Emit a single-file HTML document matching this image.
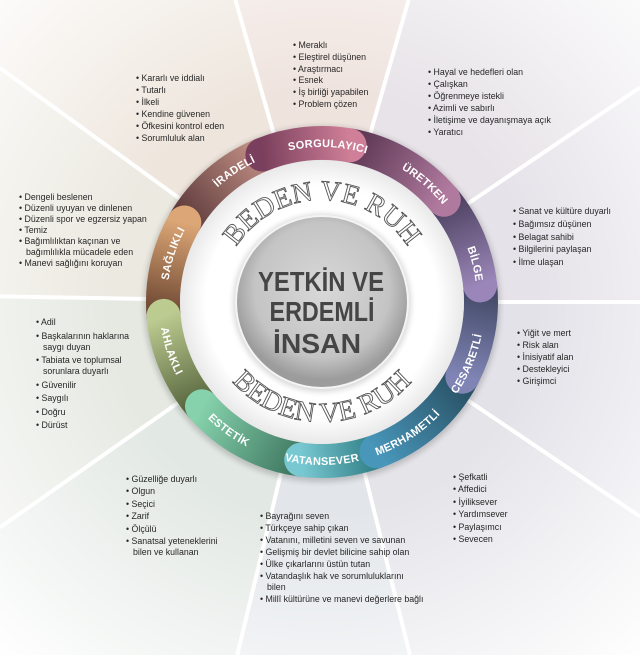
<!DOCTYPE html>
<html><head><meta charset="utf-8">
<style>
html,body{margin:0;padding:0;background:#fff;width:640px;height:655px;overflow:hidden}
#w{position:relative;width:640px;height:655px;overflow:hidden;font-family:"Liberation Sans",sans-serif}
svg{position:absolute;left:0;top:0;display:block}
.l{position:absolute;font-size:8.8px;color:#262626;line-height:11px;white-space:nowrap}
.l div{padding-left:7px;text-indent:-7px}
</style></head><body><div id="w">
<svg width="640" height="655" viewBox="0 0 640 655">
<defs>
<radialGradient id="fade" cx="322" cy="302" r="470" gradientUnits="userSpaceOnUse">
<stop offset="0.45" stop-color="#fff" stop-opacity="0"/><stop offset="1" stop-color="#fff" stop-opacity="0.95"/></radialGradient>
<radialGradient id="gc" cx="322" cy="290" r="90" gradientUnits="userSpaceOnUse">
<stop offset="0" stop-color="#d8d8d8"/><stop offset="0.75" stop-color="#c4c4c4"/><stop offset="1" stop-color="#9c9c9c"/></radialGradient>
<radialGradient id="wd" cx="322" cy="302" r="145" gradientUnits="userSpaceOnUse">
<stop offset="0.8" stop-color="#fff"/><stop offset="1" stop-color="#e6e6e6"/></radialGradient>
<linearGradient id="g9" gradientUnits="userSpaceOnUse" x1="184.3" y1="222.5" x2="262.4" y2="154.6"><stop offset="0" stop-color="#5c3a3a"/><stop offset="1" stop-color="#c08e84"/></linearGradient>
<linearGradient id="g8" gradientUnits="userSpaceOnUse" x1="163.6" y1="315.9" x2="184.3" y2="222.5"><stop offset="0" stop-color="#6a4530"/><stop offset="1" stop-color="#dca676"/></linearGradient>
<linearGradient id="g7" gradientUnits="userSpaceOnUse" x1="202" y1="406.3" x2="163.6" y2="315.9"><stop offset="0" stop-color="#55633c"/><stop offset="1" stop-color="#bccb90"/></linearGradient>
<linearGradient id="g6" gradientUnits="userSpaceOnUse" x1="301.2" y1="459.6" x2="202" y2="406.3"><stop offset="0" stop-color="#3e7660"/><stop offset="1" stop-color="#86d2ac"/></linearGradient>
<linearGradient id="g5" gradientUnits="userSpaceOnUse" x1="376.4" y1="451.4" x2="301.2" y2="459.6"><stop offset="0" stop-color="#2f7d84"/><stop offset="1" stop-color="#78c8d2"/></linearGradient>
<linearGradient id="g4" gradientUnits="userSpaceOnUse" x1="462.4" y1="376.7" x2="376.4" y2="451.4"><stop offset="0" stop-color="#284f62"/><stop offset="1" stop-color="#4896ba"/></linearGradient>
<linearGradient id="g3" gradientUnits="userSpaceOnUse" x1="480.1" y1="285.4" x2="462.4" y2="376.7"><stop offset="0" stop-color="#3f4662"/><stop offset="1" stop-color="#7f84b4"/></linearGradient>
<linearGradient id="g2" gradientUnits="userSpaceOnUse" x1="443.8" y1="199.8" x2="480.1" y2="285.4"><stop offset="0" stop-color="#4b3f5e"/><stop offset="1" stop-color="#9a86b8"/></linearGradient>
<linearGradient id="g1" gradientUnits="userSpaceOnUse" x1="349.6" y1="145.4" x2="443.8" y2="199.8"><stop offset="0" stop-color="#5a3552"/><stop offset="1" stop-color="#b07a9e"/></linearGradient>
<linearGradient id="g0" gradientUnits="userSpaceOnUse" x1="262.4" y1="154.6" x2="349.6" y2="145.4"><stop offset="0" stop-color="#7a3f5c"/><stop offset="1" stop-color="#cf7f98"/></linearGradient>
<path id="cw" d="M322,457 A155,155 0 1 1 322,147 A155,155 0 1 1 322,457"/>
<path id="ccw" d="M322,139 A163,163 0 1 0 322,465 A163,163 0 1 0 322,139"/>
<path id="bt" d="M220,302 A102,102 0 0 1 424,302"/>
<path id="bb" d="M202,302 A120,120 0 0 0 442,302"/>
<filter id="sh" x="-20%" y="-20%" width="140%" height="140%"><feGaussianBlur stdDeviation="3"/></filter>
</defs>
<g>
<polygon points="322,302 235.4,0 408.6,0" fill="#efe3de"/>
<polygon points="322,302 408.6,0 640,0 640,87.5" fill="#e7e3e8"/>
<polygon points="322,302 640,87.5 640,302" fill="#e5e2e9"/>
<polygon points="322,302 640,302 640,516.5" fill="#e3e2e9"/>
<polygon points="322,302 640,516.5 640,655 410,655" fill="#e5e4e9"/>
<polygon points="322,302 410,655 237.3,655" fill="#e2e6ea"/>
<polygon points="322,302 237.3,655 0,655 0,527.5" fill="#e2e8e4"/>
<polygon points="322,302 0,527.5 0,296.4" fill="#e6e9e2"/>
<polygon points="322,302 0,296.4 0,68" fill="#ebe9e0"/>
<polygon points="322,302 0,68 0,0 235.4,0" fill="#eee6dd"/>
</g>
<rect width="640" height="655" fill="url(#fade)"/>
<g stroke="#fff" stroke-width="4">
<line x1="322" y1="302" x2="235.4" y2="0"/>
<line x1="322" y1="302" x2="408.6" y2="0"/>
<line x1="322" y1="302" x2="640" y2="87.5"/>
<line x1="322" y1="302" x2="640" y2="302"/>
<line x1="322" y1="302" x2="640" y2="516.5"/>
<line x1="322" y1="302" x2="410" y2="655"/>
<line x1="322" y1="302" x2="237.3" y2="655"/>
<line x1="322" y1="302" x2="0" y2="527.5"/>
<line x1="322" y1="302" x2="0" y2="296.4"/>
<line x1="322" y1="302" x2="0" y2="68"/>
</g>
<circle cx="322" cy="304" r="178" fill="#000" opacity="0.18" filter="url(#sh)"/>
<g fill="none" stroke-width="34" stroke-linecap="round">
<path d="M184.3,222.5 A159,159 0 0 1 262.4,154.6" stroke="url(#g9)"/>
<path d="M163.6,315.9 A159,159 0 0 1 184.3,222.5" stroke="url(#g8)"/>
<path d="M202,406.3 A159,159 0 0 1 163.6,315.9" stroke="url(#g7)"/>
<path d="M301.2,459.6 A159,159 0 0 1 202,406.3" stroke="url(#g6)"/>
<path d="M376.4,451.4 A159,159 0 0 1 301.2,459.6" stroke="url(#g5)"/>
<path d="M462.4,376.7 A159,159 0 0 1 376.4,451.4" stroke="url(#g4)"/>
<path d="M480.1,285.4 A159,159 0 0 1 462.4,376.7" stroke="url(#g3)"/>
<path d="M443.8,199.8 A159,159 0 0 1 480.1,285.4" stroke="url(#g2)"/>
<path d="M349.6,145.4 A159,159 0 0 1 443.8,199.8" stroke="url(#g1)"/>
<path d="M262.4,154.6 A159,159 0 0 1 349.6,145.4" stroke="url(#g0)"/>
</g>
<circle cx="322" cy="302" r="142" fill="url(#wd)"/>
<g font-family="Liberation Sans, sans-serif" font-weight="bold" font-size="11" fill="#fff" text-anchor="middle" letter-spacing="0.3">
<text><textPath href="#cw" startOffset="30%">SAĞLIKLI</textPath></text>
<text><textPath href="#cw" startOffset="40.6%">İRADELİ</textPath></text>
<text><textPath href="#cw" startOffset="50.6%">SORGULAYICI</textPath></text>
<text><textPath href="#cw" startOffset="61.4%">ÜRETKEN</textPath></text>
<text><textPath href="#cw" startOffset="71.1%">BİLGE</textPath></text>
<text><textPath href="#ccw" startOffset="68.6%">CESARETLİ</textPath></text>
<text><textPath href="#ccw" startOffset="59.2%">MERHAMETLİ</textPath></text>
<text><textPath href="#ccw" startOffset="50%">VATANSEVER</textPath></text>
<text><textPath href="#ccw" startOffset="40%">ESTETİK</textPath></text>
<text><textPath href="#ccw" startOffset="30%">AHLAKLI</textPath></text>
</g>
<g font-family="Liberation Serif, serif" font-size="28" fill="#fff" stroke="#555" stroke-width="0.9" text-anchor="middle">
<text><textPath href="#bt" startOffset="50%">BEDEN VE RUH</textPath></text>
<text><textPath href="#bb" startOffset="50%">BEDEN VE RUH</textPath></text>
</g>
<circle cx="322" cy="303" r="89" fill="#000" opacity="0.15" filter="url(#sh)"/>
<circle cx="322" cy="302" r="86" fill="url(#gc)" stroke="#f4f4f4" stroke-width="2"/>
<g font-family="Liberation Sans, sans-serif" font-weight="bold" font-size="28" fill="#454545" text-anchor="middle">
<text x="321" y="291" textLength="126" lengthAdjust="spacingAndGlyphs">YETKİN VE</text>
<text x="322" y="321" textLength="105" lengthAdjust="spacingAndGlyphs">ERDEMLİ</text>
<text x="317" y="353" textLength="88" lengthAdjust="spacingAndGlyphs">İNSAN</text>
</g>
</svg>

<div class="l" style="left:293px;top:40px;line-height:11.8px">
<div>• Meraklı</div><div>• Eleştirel düşünen</div><div>• Araştırmacı</div><div>• Esnek</div><div>• İş birliği yapabilen</div><div>• Problem çözen</div></div>

<div class="l" style="left:136px;top:72px;line-height:12px">
<div>• Kararlı ve iddialı</div><div>• Tutarlı</div><div>• İlkeli</div><div>• Kendine güvenen</div><div>• Öfkesini kontrol eden</div><div>• Sorumluluk alan</div></div>

<div class="l" style="left:428px;top:67px;line-height:11.9px">
<div>• Hayal ve hedefleri olan</div><div>• Çalışkan</div><div>• Öğrenmeye istekli</div><div>• Azimli ve sabırlı</div><div>• İletişime ve dayanışmaya açık</div><div>• Yaratıcı</div></div>

<div class="l" style="left:19px;top:192px;line-height:11px">
<div>• Dengeli beslenen</div><div>• Düzenli uyuyan ve dinlenen</div><div>• Düzenli spor ve egzersiz yapan</div><div>• Temiz</div><div>• Bağımlılıktan kaçınan ve<br>bağımlılıkla mücadele eden</div><div>• Manevi sağlığını koruyan</div></div>

<div class="l" style="left:513px;top:205px;line-height:12.8px">
<div>• Sanat ve kültüre duyarlı</div><div>• Bağımsız düşünen</div><div>• Belagat sahibi</div><div>• Bilgilerini paylaşan</div><div>• İlme ulaşan</div></div>

<div class="l" style="left:36px;top:317px;line-height:11px">
<div style="margin-bottom:2.5px">• Adil</div><div style="margin-bottom:2.5px">• Başkalarının haklarına<br>saygı duyan</div><div style="margin-bottom:2.5px">• Tabiata ve toplumsal<br>sorunlara duyarlı</div><div style="margin-bottom:2.5px">• Güvenilir</div><div style="margin-bottom:2.5px">• Saygılı</div><div style="margin-bottom:2.5px">• Doğru</div><div>• Dürüst</div></div>

<div class="l" style="left:517px;top:327px;line-height:12px">
<div>• Yiğit ve mert</div><div>• Risk alan</div><div>• İnisiyatif alan</div><div>• Destekleyici</div><div>• Girişimci</div></div>

<div class="l" style="left:126px;top:474px;line-height:11px">
<div style="margin-bottom:1.4px">• Güzelliğe duyarlı</div><div style="margin-bottom:1.4px">• Olgun</div><div style="margin-bottom:1.4px">• Seçici</div><div style="margin-bottom:1.4px">• Zarif</div><div style="margin-bottom:1.4px">• Ölçülü</div><div>• Sanatsal yeteneklerini<br>bilen ve kullanan</div></div>

<div class="l" style="left:260px;top:511px;line-height:11px">
<div style="margin-bottom:1px">• Bayrağını seven</div><div style="margin-bottom:1px">• Türkçeye sahip çıkan</div><div style="margin-bottom:1px">• Vatanını, milletini seven ve savunan</div><div style="margin-bottom:1px">• Gelişmiş bir devlet bilicine sahip olan</div><div style="margin-bottom:1px">• Ülke çıkarlarını üstün tutan</div><div style="margin-bottom:1px">• Vatandaşlık hak ve sorumluluklarını<br>bilen</div><div>• Millî kültürüne ve manevi değerlere bağlı</div></div>

<div class="l" style="left:453px;top:471px;line-height:12.4px">
<div>• Şefkatli</div><div>• Affedici</div><div>• İyiliksever</div><div>• Yardımsever</div><div>• Paylaşımcı</div><div>• Sevecen</div></div>
</div></body></html>
